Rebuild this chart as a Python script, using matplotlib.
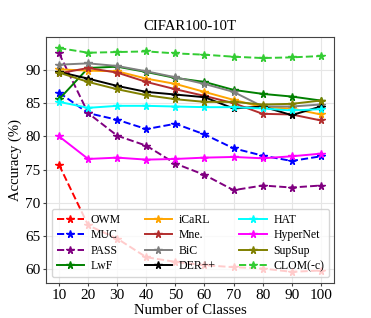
import matplotlib
matplotlib.use("Agg")
import matplotlib.pyplot as plt

plt.rcParams['font.family'] = ['Liberation Serif', 'DejaVu Serif']

classes = [10, 20, 30, 40, 50, 60, 70, 80, 90, 100]

owm      = [75.7, 66.6, 64.6, 61.8, 61.1, 60.6, 60.3, 60.1, 59.6, 59.8]
muc      = [86.6, 83.5, 82.5, 81.1, 81.9, 80.3, 78.2, 77.1, 76.3, 77.0]
pass_    = [92.5, 83.5, 80.1, 78.6, 75.9, 74.2, 71.9, 72.6, 72.3, 72.6]
lwf      = [85.6, 90.3, 90.5, 89.7, 88.8, 88.2, 87.0, 86.4, 86.0, 85.4]
icarl    = [90.1, 89.9, 89.8, 88.7, 87.9, 86.7, 85.5, 84.4, 84.2, 83.3]
mne      = [89.5, 90.3, 89.6, 88.2, 87.1, 86.1, 85.0, 83.4, 83.3, 82.4]
bic      = [90.8, 91.0, 90.6, 89.8, 88.9, 87.9, 86.7, 84.5, 84.5, 84.8]
derpp    = [89.7, 88.7, 87.6, 86.7, 86.3, 85.9, 84.2, 84.5, 83.2, 84.5]
hat      = [85.2, 84.3, 84.6, 84.6, 84.5, 84.4, 84.4, 84.2, 83.9, 84.1]
hypernet = [80.0, 76.6, 76.8, 76.5, 76.6, 76.8, 76.9, 76.7, 77.0, 77.4]
supsup   = [89.6, 88.2, 87.1, 86.2, 85.6, 85.2, 85.2, 84.8, 84.9, 85.4]
clom     = [93.3, 92.6, 92.7, 92.8, 92.5, 92.3, 92.0, 91.8, 91.9, 92.1]

series = [
    ("OWM", owm, "red", "--"),
    ("MUC", muc, "blue", "--"),
    ("PASS", pass_, "purple", "--"),
    ("LwF", lwf, "green", "-"),
    ("iCaRL", icarl, "orange", "-"),
    ("Mne.", mne, "#b22e2e", "-"),
    ("BiC", bic, "gray", "-"),
    ("DER++", derpp, "black", "-"),
    ("HAT", hat, "cyan", "-"),
    ("HyperNet", hypernet, "magenta", "-"),
    ("SupSup", supsup, "olive", "-"),
    ("CLOM(-c)", clom, "#33cc33", "--"),
]

fig = plt.figure(figsize=(3.71, 3.18), dpi=100)
ax = fig.add_axes([0.124, 0.110, 0.776, 0.774])
for name, vals, col, ls in series:
    ax.plot(classes, vals, color=col, linestyle=ls, marker='*', markersize=5.5,
            linewidth=1.4, label=name)

ax.set_xticks(classes)
ax.set_yticks([60, 65, 70, 75, 80, 85, 90])
ax.grid(True, color='#e6e6e6', linewidth=0.8)
ax.set_axisbelow(True)
for s in ax.spines.values():
    s.set_color('#444444')
ax.tick_params(labelsize=11, length=2, pad=2, color='#444444')
ax.set_xlabel("Number of Classes", fontsize=10.6, labelpad=2)
ax.set_ylabel("Accuracy (%)", fontsize=10.6, labelpad=2)
ax.set_title("CIFAR100-10T", fontsize=10.6, pad=5)
ax.legend(loc='lower left', ncol=3, fontsize=8.5, handlelength=2.3,
          columnspacing=2.0, handletextpad=0.6, labelspacing=0.3,
          borderpad=0.4, borderaxespad=0.5)

fig.savefig("out.png", dpi=100)
